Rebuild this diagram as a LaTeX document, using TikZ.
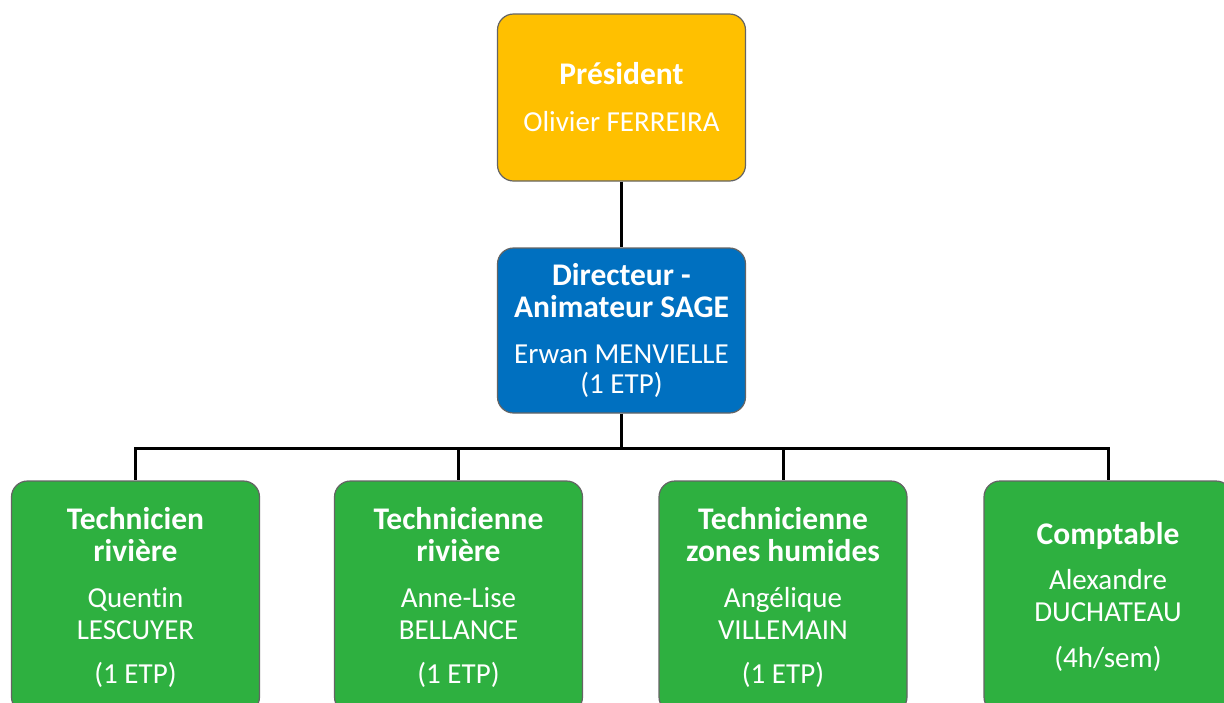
\documentclass[tikz,border=0pt]{standalone}
\usepackage{fontspec}
\setmainfont[Ligatures=NoCommon]{Carlito}
\definecolor{presy}{RGB}{255,192,0}
\definecolor{dirb}{RGB}{0,112,192}
\definecolor{techg}{RGB}{46,176,64}
\definecolor{bord}{RGB}{100,100,100}
\newcommand\hdtxt[1]{{\fontsize{31.5}{32}\selectfont\bfseries #1}}
\begin{document}
\begin{tikzpicture}[x=1pt,y=-1pt,
  box/.style={draw=bord, line width=1.2pt, rounded corners=16pt, text=white,
    align=center, font=\fontsize{29}{32}\selectfont, minimum width=248pt, inner sep=0pt},
  link/.style={line width=3pt, draw=black}]
\useasboundingbox[fill=white] (0,0) rectangle (1224,702);
\node[box, fill=presy, minimum height=167pt] (pres) at (621.5,97.5)
  {\hdtxt{Président}\\[15pt]Olivier FERREIRA};
\node[box, fill=dirb, minimum height=165pt] (dir) at (621.5,330.5)
  {\hdtxt{Directeur -}\\\hdtxt{Animateur SAGE}\\[14pt]Erwan MENVIELLE\\[-2pt](1 ETP)};
\node[box, fill=techg, minimum height=232pt] (g1) at (135.5,597)
  {\hdtxt{Technicien}\\\hdtxt{rivière}\\[14pt]Quentin\\LESCUYER\\[12pt](1 ETP)};
\node[box, fill=techg, minimum height=232pt] (g2) at (458.5,597)
  {\hdtxt{Technicienne}\\\hdtxt{rivière}\\[14pt]Anne-Lise\\BELLANCE\\[12pt](1 ETP)};
\node[box, fill=techg, minimum height=232pt] (g3) at (783,597)
  {\hdtxt{Technicienne}\\\hdtxt{zones humides}\\[14pt]Angélique\\VILLEMAIN\\[12pt](1 ETP)};
\node[box, fill=techg, minimum height=232pt] (g4) at (1108,597)
  {\hdtxt{Comptable}\\[13pt]Alexandre\\DUCHATEAU\\[14pt](4h/sem)};
\coordinate (bar) at (621.5,448);
\draw[link] (pres.south) -- (dir.north);
\draw[link] (dir.south) -- (bar);
\draw[link] (bar) -| (g1.north);
\draw[link] (bar) -| (g2.north);
\draw[link] (bar) -| (g3.north);
\draw[link] (bar) -| (g4.north);
\end{tikzpicture}
\end{document}
